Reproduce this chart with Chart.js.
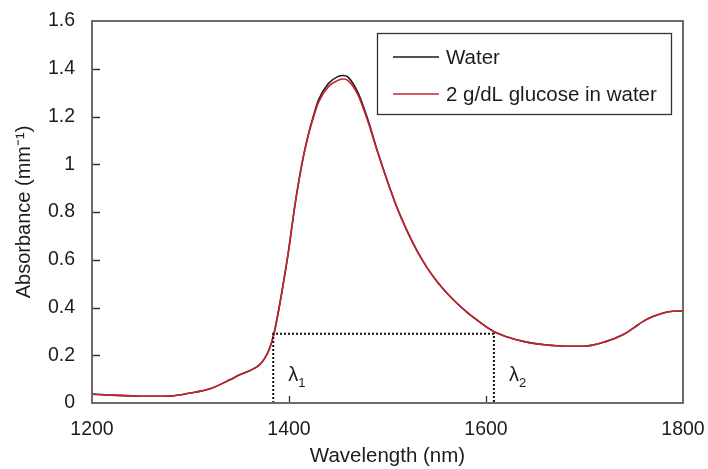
<!DOCTYPE html>
<html>
<head>
<meta charset="utf-8">
<script src="https://cdn.jsdelivr.net/npm/chart.js@4.4.1/dist/chart.umd.min.js"></script>
<style>
html,body{margin:0;padding:0;background:#fff;}
#wrap{width:708px;height:469px;position:relative;}
</style>
</head>
<body>
<div id="wrap"><canvas id="c" width="708" height="469"></canvas></div>
<script>
// ---- data ----
const wavelengths = [1200,1220,1240,1260,1280,1300,1320,1340,1350,1360,1370,1375,1380,1385,1390,1395,1400,1405,1410,1415,1420,1425,1430,1440,1450,1455,1460,1470,1480,1490,1500,1510,1520,1530,1540,1550,1560,1570,1580,1590,1600,1610,1620,1640,1660,1680,1700,1720,1740,1750,1760,1770,1780,1790,1800];
const waterAbs = [0.037,0.033,0.030,0.028,0.029,0.042,0.060,0.097,0.118,0.135,0.160,0.185,0.225,0.295,0.400,0.520,0.650,0.800,0.930,1.040,1.130,1.205,1.270,1.338,1.368,1.372,1.365,1.300,1.188,1.052,0.928,0.815,0.720,0.637,0.568,0.510,0.462,0.420,0.383,0.350,0.320,0.295,0.279,0.256,0.244,0.238,0.238,0.255,0.288,0.315,0.343,0.363,0.377,0.384,0.385];
const glucoseAbs = [0.037,0.033,0.030,0.028,0.029,0.042,0.060,0.097,0.118,0.135,0.160,0.185,0.225,0.295,0.400,0.520,0.650,0.800,0.930,1.040,1.128,1.198,1.260,1.325,1.352,1.357,1.350,1.290,1.180,1.050,0.928,0.815,0.720,0.637,0.568,0.510,0.462,0.420,0.383,0.350,0.320,0.295,0.279,0.256,0.244,0.238,0.238,0.255,0.288,0.315,0.343,0.363,0.377,0.384,0.385];
const lambdaX = [1384, 1608];
const lambdaLevel = 0.29;
const lambdaLabels = ["λ", "λ"];
const lambdaSubs = ["1", "2"];
const seriesNames = ["Water", "2 g/dL glucose in water"];
const xTickValues = [1200, 1400, 1600, 1800];
const yTickValues = [0, 0.2, 0.4, 0.6, 0.8, 1, 1.2, 1.4, 1.6];
const yTickLabels = ["0", "0.2", "0.4", "0.6", "0.8", "1", "1.2", "1.4", "1.6"];
const xTitle = "Wavelength (nm)";
const yTitle = "Absorbance (mm⁻¹)";

const FONT = "'Liberation Sans', Arial, Helvetica, sans-serif";
const TEXT = '#1c1c1c';
const BLACK = '#1a1a1a';
const RED = '#c8242f';

const toPts = (xs, ys) => xs.map((x, i) => ({x: x, y: ys[i]}));
const dottedPts = [
  {x: lambdaX[0], y: 0}, {x: lambdaX[0], y: lambdaLevel},
  {x: lambdaX[1], y: lambdaLevel}, {x: lambdaX[1], y: 0}
];

const decor = {
  id: 'decor',
  afterDatasetsDraw(chart) {
    const {ctx, chartArea: a, scales: {x, y}} = chart;
    ctx.save();
    // inward ticks
    ctx.strokeStyle = '#333';
    ctx.lineWidth = 1.3;
    ctx.beginPath();
    yTickValues.forEach(v => {
      if (v > 0 && v < 1.6) {
        const py = Math.round(y.getPixelForValue(v)) + 0.5;
        ctx.moveTo(a.left, py); ctx.lineTo(a.left + 8, py);
      }
    });
    xTickValues.forEach(v => {
      if (v > 1200 && v < 1800) {
        const px = Math.round(x.getPixelForValue(v)) + 0.5;
        ctx.moveTo(px, a.bottom); ctx.lineTo(px, a.bottom - 7);
      }
    });
    ctx.stroke();
    // frame
    ctx.strokeStyle = '#6a6a6a';
    ctx.lineWidth = 2;
    ctx.strokeRect(a.left, a.top, a.right - a.left, a.bottom - a.top);
    // lambda labels
    ctx.fillStyle = TEXT;
    ctx.textBaseline = 'alphabetic';
    ctx.textAlign = 'left';
    lambdaX.forEach((lx, i) => {
      const px = x.getPixelForValue(lx) + 15;
      const py = y.getPixelForValue(0) - 22;
      ctx.font = '20px ' + FONT;
      ctx.fillText(lambdaLabels[i], px, py);
      const w = ctx.measureText(lambdaLabels[i]).width;
      ctx.font = '13px ' + FONT;
      ctx.fillText(lambdaSubs[i], px + w, py + 6);
    });
    // legend
    const L = 377, T = 33, R = 671, B = 114;
    ctx.fillStyle = '#fff';
    ctx.fillRect(L, T, R - L, B - T);
    ctx.strokeStyle = '#333';
    ctx.lineWidth = 1.3;
    ctx.strokeRect(L + 0.5, T + 0.5, R - L, B - T);
    const rows = [57, 94];
    const cols = [BLACK, RED];
    ctx.font = '20.5px ' + FONT;
    ctx.textBaseline = 'middle';
    rows.forEach((ry, i) => {
      ctx.strokeStyle = cols[i];
      ctx.lineWidth = 1.5;
      ctx.beginPath();
      ctx.moveTo(393, ry); ctx.lineTo(439, ry);
      ctx.stroke();
      ctx.fillStyle = TEXT;
      ctx.fillText(seriesNames[i], 446, ry + 1);
    });
    ctx.restore();
  }
};

new Chart(document.getElementById('c'), {
  type: 'line',
  data: {
    datasets: [
      {label: seriesNames[0], data: toPts(wavelengths, waterAbs), borderColor: BLACK, borderWidth: 1.6, pointRadius: 0, cubicInterpolationMode: 'monotone', order: 3, fill: false},
      {label: seriesNames[1], data: toPts(wavelengths, glucoseAbs), borderColor: RED, borderWidth: 1.6, pointRadius: 0, cubicInterpolationMode: 'monotone', order: 2, fill: false},
      {label: 'lambda', data: dottedPts, borderColor: '#111', borderWidth: 2, borderDash: [2, 2], pointRadius: 0, tension: 0, order: 1, fill: false}
    ]
  },
  options: {
    responsive: false,
    animation: false,
    events: [],
    layout: {padding: {top: 21, right: 25, left: 0, bottom: 0}},
    plugins: {legend: {display: false}, tooltip: {enabled: false}},
    scales: {
      x: {
        type: 'linear', min: 1200, max: 1800,
        afterBuildTicks: s => { s.ticks = xTickValues.map(v => ({value: v})); },
        afterFit: s => { s.height = 66; s.paddingLeft = 0; s.paddingRight = 0; },
        grid: {display: false, drawTicks: false},
        border: {display: false},
        ticks: {color: TEXT, font: {family: FONT, size: 19.5}, padding: 15, maxRotation: 0, callback: v => String(v)},
        title: {display: true, text: xTitle, color: TEXT, font: {family: FONT, size: 20.5}, padding: {top: 0, bottom: 0}}
      },
      y: {
        type: 'linear', min: 0, max: 1.6,
        afterBuildTicks: s => { s.ticks = yTickValues.map(v => ({value: v})); },
        afterFit: s => { s.width = 92; s.paddingTop = 0; s.paddingBottom = 0; },
        grid: {display: false, drawTicks: false},
        border: {display: false},
        ticks: {color: TEXT, font: {family: FONT, size: 19.5}, padding: 17, callback: (v) => { const i = yTickValues.findIndex(t => Math.abs(t - v) < 1e-6); return i >= 0 ? yTickLabels[i] : ''; }},
        title: {display: true, text: yTitle, color: TEXT, font: {family: FONT, size: 20}, padding: {top: 12, bottom: 0}}
      }
    }
  },
  plugins: [decor]
});
</script>
</body>
</html>
